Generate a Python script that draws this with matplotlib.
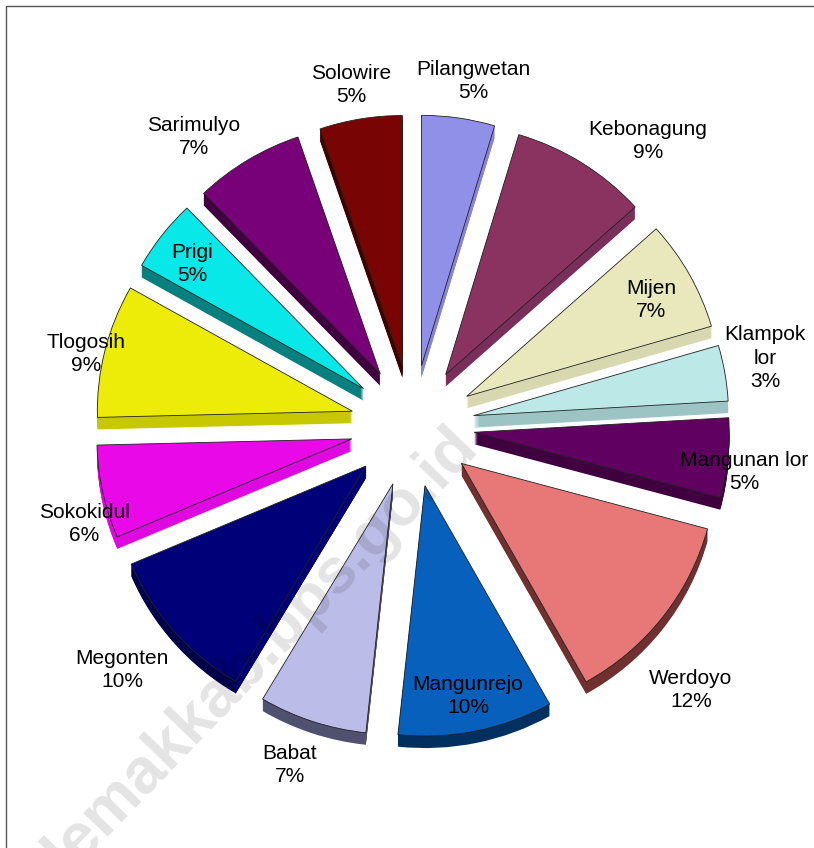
import matplotlib
matplotlib.use('Agg')
import matplotlib.pyplot as plt
import numpy as np
from matplotlib.patches import Polygon, Rectangle

W, H = 814, 848

# desa names and share of the pie, clockwise from the top
names = ['Pilangwetan', 'Kebonagung', 'Mijen', 'Klampok\nlor', 'Mangunan lor',
         'Werdoyo', 'Mangunrejo', 'Babat', 'Megonten', 'Sokokidul',
         'Tlogosih', 'Prigi', 'Sarimulyo', 'Solowire']
values = [4.6, 8.65, 7.1, 3.57, 5.1, 12.58, 9.76, 6.8, 10.0, 5.97, 8.53, 4.6, 6.9, 5.2]
pct_labels = ['5%', '9%', '7%', '3%', '5%', '12%', '10%', '7%', '10%', '6%',
              '9%', '5%', '7%', '5%']

top_colors = ['#9090E8', '#8B3360', '#E8E8BC', '#BCE8E8', '#600060', '#E87878',
              '#0660BC', '#BCBCE8', '#000078', '#E808E8', '#ECEC08', '#08E8E8',
              '#780078', '#780404']
side_colors = ['#8484D8', '#7A2E5A', '#D8D8B0', '#9CC4C4', '#400040', '#703030',
               '#003060', '#505070', '#00004A', '#E008E0', '#C8C800', '#088080',
               '#400040', '#400000']

# label centres in picture pixels
label_xy = [(473, 81), (648, 141), (651, 300), (765, 358), (744, 472),
            (691, 690), (468, 696), (290, 765), (122, 670), (84, 524),
            (86, 354), (192, 264), (194, 137), (351, 85)]

# the pie is seen slightly tilted, so y is squeezed a little
y_squeeze = 0.982
cx, cy, radius = 412.5, 426, 255
explode = [62] * len(values)  # pie shifts wedges in data units, here pixels
depth = 12


def py(y):
    # picture y (from the top) to data y
    return (H - y) / y_squeeze


fig = plt.figure(figsize=(W / 100, H / 100), dpi=100)
ax = fig.add_axes([0, 0, 1, 1])

# extrusion first: stacked copies moved down, then the top face
for d in range(depth, 0, -1):
    ax.pie(values, explode=explode, colors=side_colors, radius=radius,
           center=(cx, py(cy + d)), startangle=90, counterclock=False,
           wedgeprops={'linewidth': 0})
wedges, _ = ax.pie(values, explode=explode, colors=top_colors, radius=radius,
                   center=(cx, py(cy)), startangle=90, counterclock=False,
                   wedgeprops={'linewidth': 0.6, 'edgecolor': '#222222', 'zorder': 3})

# Megonten: its straight side is lighter than the curved one
w = wedges[names.index('Megonten')]
a = np.deg2rad(w.theta2)
tip = np.array(w.center)
corner = tip + w.r * np.array([np.cos(a), np.sin(a)])
drop = np.array([0, depth / y_squeeze])
ax.add_patch(Polygon([tip, corner, corner - drop, tip - drop], closed=True,
                     facecolor='#00007C', edgecolor='black', linewidth=0.4, zorder=2))

ax.set_xlim(0, W)
ax.set_ylim(0, H / y_squeeze)
ax.set_aspect('auto')
ax.axis('off')

# chart frame, open on the right and bottom
ax.add_patch(Rectangle((6, -10), W + 10, py(6) + 10, fill=False,
                       edgecolor='#555555', linewidth=1, zorder=5))

# watermark
ax.text(480, py(449), 'demakkab.bps.go.id', rotation=46, rotation_mode='anchor',
        ha='right', va='baseline', fontsize=46, fontweight='bold',
        family='Liberation Sans', color='black', alpha=0.11, zorder=6)

for name, pct, (x, y) in zip(names, pct_labels, label_xy):
    ax.text(x, py(y), name + '\n' + pct, ha='center', va='center', fontsize=15,
            family='Liberation Sans', color='black', linespacing=1.27, zorder=7)

fig.savefig('out.png', dpi=100)
